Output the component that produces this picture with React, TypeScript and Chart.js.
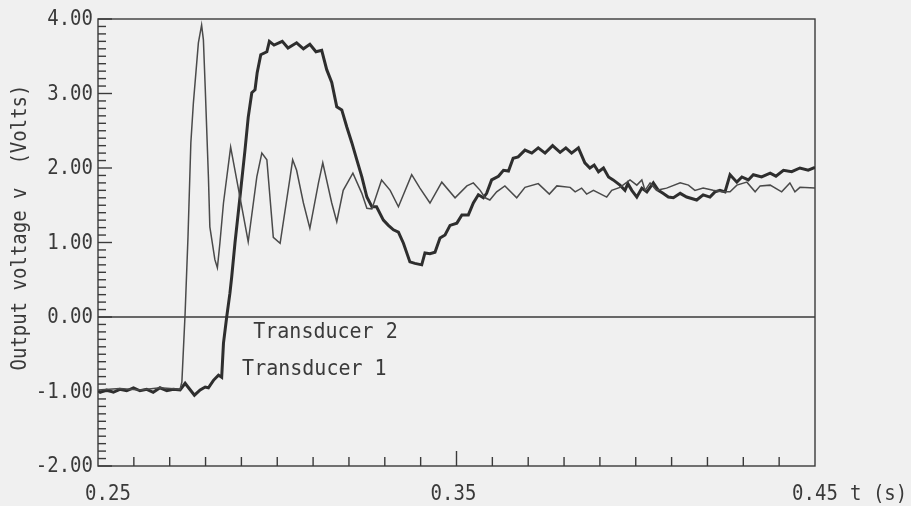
import React, { useEffect, useRef } from 'react';
import { Chart, registerables } from 'chart.js';
Chart.register(...registerables);

// Transducer 2 (thin trace): time (s) and voltage (V)
const t2Time = [
  0.25, 0.2561, 0.2617, 0.2673, 0.2729, 0.2734, 0.2743, 0.2751, 0.2759, 0.2766,
  0.278, 0.2789, 0.2794, 0.2799, 0.2808, 0.2812, 0.2826, 0.2833, 0.284, 0.285,
  0.287, 0.2896, 0.2919, 0.2943, 0.2957, 0.2971, 0.2989, 0.3008, 0.3036, 0.3043,
  0.3054, 0.3073, 0.3091, 0.3115, 0.3127, 0.3152, 0.3166, 0.3184, 0.3211, 0.3236,
  0.325, 0.3264, 0.3291, 0.3315, 0.3338, 0.3375, 0.3398, 0.3426, 0.3459, 0.3496,
  0.3529, 0.3547, 0.3566, 0.358, 0.3593, 0.3612, 0.3635, 0.3668, 0.3691, 0.3728,
  0.3759, 0.378, 0.3817, 0.3831, 0.3849, 0.3863, 0.3882, 0.3919, 0.3933, 0.3956,
  0.3984, 0.4003, 0.4017, 0.4026, 0.404, 0.4058, 0.4086, 0.4124, 0.4147, 0.4165,
  0.4188, 0.4216, 0.424, 0.4263, 0.4282, 0.431, 0.4333, 0.4347, 0.4375, 0.4407,
  0.443, 0.4444, 0.4458, 0.45,
];
const t2Volts = [
  -0.98, -0.96, -0.98, -0.95, -0.97, -0.87, 0.05, 1.07, 2.34, 2.87,
  3.68, 3.92, 3.72, 3.09, 1.88, 1.21, 0.77, 0.66, 0.99, 1.53,
  2.28, 1.61, 1.01, 1.88, 2.2, 2.11, 1.07, 0.99, 1.88, 2.11,
  1.97, 1.53, 1.19, 1.8, 2.07, 1.53, 1.28, 1.7, 1.93, 1.66,
  1.46, 1.45, 1.84, 1.7, 1.48, 1.91, 1.73, 1.53, 1.81, 1.6,
  1.76, 1.8, 1.7, 1.6, 1.57, 1.68, 1.76, 1.6, 1.74, 1.79,
  1.65, 1.76, 1.74, 1.68, 1.73, 1.65, 1.7, 1.61, 1.7, 1.74,
  1.84, 1.77, 1.84, 1.7, 1.8, 1.7, 1.73, 1.8, 1.77, 1.7,
  1.73, 1.7, 1.68, 1.68, 1.77, 1.81, 1.68, 1.76, 1.77, 1.68,
  1.8, 1.68, 1.74, 1.73,
];

// Transducer 1 (thick trace)
const t1Time = [
  0.25, 0.2506, 0.2524, 0.2543, 0.2561, 0.258, 0.2599, 0.2617, 0.2636, 0.2654,
  0.2673, 0.2692, 0.271, 0.2729, 0.2743, 0.2751, 0.2769, 0.2785, 0.2799, 0.2808,
  0.2822, 0.2836, 0.2845, 0.285, 0.2859, 0.2868, 0.2873, 0.2882, 0.2896, 0.291,
  0.2919, 0.2929, 0.2938, 0.2944, 0.2954, 0.2971, 0.2978, 0.2991, 0.3014, 0.303,
  0.3054, 0.3073, 0.3091, 0.3108, 0.3124, 0.3138, 0.3152, 0.3166, 0.318, 0.3194,
  0.3208, 0.3222, 0.3236, 0.325, 0.3264, 0.3277, 0.3296, 0.331, 0.3324, 0.3338,
  0.3352, 0.337, 0.3384, 0.3403, 0.3412, 0.3426, 0.344, 0.3454, 0.3468, 0.3482,
  0.3501, 0.3515, 0.3533, 0.3547, 0.3561, 0.3575, 0.3584, 0.3598, 0.3617, 0.3631,
  0.3645, 0.3658, 0.3672, 0.3691, 0.371, 0.3728, 0.3747, 0.3768, 0.3789, 0.3805,
  0.3821, 0.384, 0.3858, 0.3872, 0.3884, 0.3896, 0.391, 0.3924, 0.3937, 0.3956,
  0.397, 0.3978, 0.3989, 0.4003, 0.4017, 0.4031, 0.4049, 0.4063, 0.4076, 0.4091,
  0.4105, 0.4124, 0.4142, 0.417, 0.4188, 0.4207, 0.4221, 0.4235, 0.4249, 0.4263,
  0.4282, 0.4296, 0.4314, 0.4328, 0.4351, 0.4375, 0.4391, 0.4412, 0.4435, 0.4458,
  0.4481, 0.45,
];
const t1Volts = [
  -0.99, -1.01, -0.98, -1.01, -0.97, -0.99, -0.95, -0.99, -0.97, -1.01,
  -0.95, -0.99, -0.97, -0.98, -0.89, -0.94, -1.05, -0.98, -0.94, -0.95,
  -0.85, -0.78, -0.81, -0.35, 0.0, 0.32, 0.54, 0.99, 1.61, 2.24,
  2.68, 3.01, 3.05, 3.28, 3.52, 3.56, 3.7, 3.65, 3.7, 3.61,
  3.68, 3.6, 3.66, 3.56, 3.58, 3.32, 3.15, 2.82, 2.78, 2.55,
  2.34, 2.11, 1.88, 1.61, 1.48, 1.48, 1.3, 1.23, 1.17, 1.14,
  0.99, 0.74, 0.72, 0.7, 0.86, 0.85, 0.87, 1.06, 1.1, 1.23,
  1.26, 1.37, 1.37, 1.53, 1.64, 1.6, 1.66, 1.84, 1.89, 1.97,
  1.96, 2.13, 2.15, 2.24, 2.2, 2.27, 2.2, 2.3, 2.21, 2.27,
  2.2, 2.27, 2.07, 2.0, 2.04, 1.95, 2.0, 1.88, 1.84, 1.77,
  1.7, 1.79, 1.7, 1.61, 1.73, 1.68, 1.8, 1.7, 1.66, 1.61,
  1.6, 1.66, 1.61, 1.57, 1.64, 1.61, 1.68, 1.7, 1.68, 1.91,
  1.81, 1.88, 1.84, 1.91, 1.88, 1.93, 1.89, 1.97, 1.95, 2.0,
  1.97, 2.01,
];

const seriesNames = ['Transducer 1', 'Transducer 2'];
const xMin = 0.25;
const xMax = 0.45;
const yMin = -2;
const yMax = 4;
const xTickValues = [0.25, 0.35, 0.45];
const xTickLabels = ['0.25', '0.35', '0.45'];
const xAxisTitle = 't (s)';
const yTickValues = [4, 3, 2, 1, 0, -1, -2];
const yTickLabels = ['4.00', '3.00', '2.00', '1.00', '0.00', '-1.00', '-2.00'];
const yAxisTitle = 'Output voltage v  (Volts)';

const BG = '#f0f0f0';
const INK = '#3a3a3a';
const FONT = '"DejaVu Sans Mono", monospace';

function stretchedText(
  ctx: CanvasRenderingContext2D,
  text: string,
  x: number,
  y: number,
  size: number,
  align: CanvasTextAlign,
  rotate = 0,
) {
  ctx.save();
  ctx.translate(x, y);
  if (rotate) ctx.rotate(rotate);
  ctx.scale(1, 1.1);
  ctx.font = `${size}px ${FONT}`;
  ctx.fillStyle = INK;
  ctx.textAlign = align;
  ctx.textBaseline = 'middle';
  ctx.fillText(text, 0, 0);
  ctx.restore();
}

const framePlugin = {
  id: 'plotterFrame',
  beforeDatasetsDraw(chart: any) {
    const { ctx, chartArea: a, scales } = chart;
    const xs = scales.x;
    const ys = scales.y;
    ctx.save();
    ctx.strokeStyle = INK;
    ctx.lineWidth = 1.4;
    // frame
    ctx.strokeRect(a.left, a.top, a.right - a.left, a.bottom - a.top);
    // zero line
    const y0 = ys.getPixelForValue(0);
    ctx.beginPath();
    ctx.moveTo(a.left, y0);
    ctx.lineTo(a.right, y0);
    ctx.stroke();
    // y ticks (inward), every 0.1
    for (let k = yMin * 10; k <= yMax * 10; k++) {
      const py = ys.getPixelForValue(k / 10);
      const len = k % 10 === 0 ? 14 : 8;
      ctx.beginPath();
      ctx.moveTo(a.left, py);
      ctx.lineTo(a.left + len, py);
      ctx.stroke();
    }
    // x ticks (inward, upward), every 0.01
    const nX = Math.round((xMax - xMin) * 100);
    for (let k = 1; k < nX; k++) {
      const v = xMin + k / 100;
      const px = xs.getPixelForValue(v);
      const len = k === nX / 2 ? 15 : 9;
      ctx.beginPath();
      ctx.moveTo(px, a.bottom);
      ctx.lineTo(px, a.bottom - len);
      ctx.stroke();
    }
    ctx.restore();

    // y tick labels
    yTickValues.forEach((v, i) => {
      stretchedText(ctx, yTickLabels[i], a.left - 5, ys.getPixelForValue(v) + 1, 19, 'right');
    });
    // x tick labels
    xTickValues.forEach((v, i) => {
      const px = xs.getPixelForValue(v);
      const shift = i === 0 ? 10 : i === 1 ? -3 : 0;
      stretchedText(ctx, xTickLabels[i], px + shift, a.bottom + 29, 19, 'center');
    });
    const lastX = xs.getPixelForValue(xTickValues[xTickValues.length - 1]);
    stretchedText(ctx, xAxisTitle, lastX + 35, a.bottom + 29, 19, 'left');
    // y axis title
    stretchedText(ctx, yAxisTitle, 21, (a.top + a.bottom) / 2 - 15, 19, 'center', -Math.PI / 2);
    // series annotations
    stretchedText(ctx, seriesNames[1], xs.getPixelForValue(0.2933), ys.getPixelForValue(-0.2), 20, 'left');
    stretchedText(ctx, seriesNames[0], xs.getPixelForValue(0.2902), ys.getPixelForValue(-0.7), 20, 'left');
  },
};

export default function App() {
  const canvasRef = useRef<HTMLCanvasElement | null>(null);

  useEffect(() => {
    document.body.style.margin = '0';
    document.body.style.background = BG;
    const canvas = canvasRef.current;
    if (!canvas) return;
    const chart = new Chart(canvas, {
      type: 'line',
      data: {
        datasets: [
          {
            label: seriesNames[1],
            data: t2Time.map((t, i) => ({ x: t, y: t2Volts[i] })),
            borderColor: '#4a4a4a',
            borderWidth: 1.5,
            pointRadius: 0,
            tension: 0,
          },
          {
            label: seriesNames[0],
            data: t1Time.map((t, i) => ({ x: t, y: t1Volts[i] })),
            borderColor: '#2e2e2e',
            borderWidth: 3,
            pointRadius: 0,
            tension: 0,
          },
        ],
      },
      options: {
        animation: false,
        responsive: false,
        maintainAspectRatio: false,
        layout: { padding: { left: 98, right: 96, top: 19, bottom: 40 } },
        scales: {
          x: { type: 'linear', min: xMin, max: xMax, display: false },
          y: { type: 'linear', min: yMin, max: yMax, display: false },
        },
        plugins: { legend: { display: false }, tooltip: { enabled: false } },
        elements: { point: { radius: 0 } },
      },
      plugins: [framePlugin],
    });
    return () => chart.destroy();
  }, []);

  return (
    <div style={{ width: 911, height: 506, background: BG }}>
      <canvas ref={canvasRef} width={911} height={506} style={{ display: 'block' }} />
    </div>
  );
}
